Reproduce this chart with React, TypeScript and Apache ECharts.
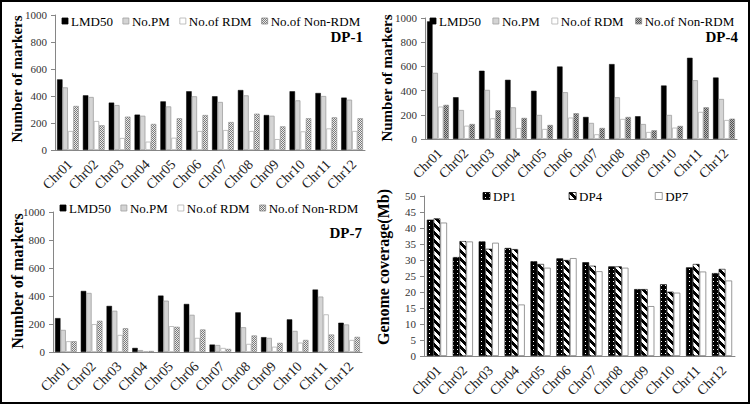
import React, { useEffect, useRef } from 'react';
import * as echarts from 'echarts';

const CHR = ['Chr01', 'Chr02', 'Chr03', 'Chr04', 'Chr05', 'Chr06', 'Chr07', 'Chr08', 'Chr09', 'Chr10', 'Chr11', 'Chr12'];
const MARKER_TICKS = { min: 0, max: 1000, interval: 200 };
const COV_TICKS = { min: 0, max: 50, interval: 5 };

const DP1_LMD50 = [523, 405, 351, 262, 360, 435, 398, 444, 259, 435, 422, 388];
const DP1_PM = [464, 393, 333, 254, 323, 398, 356, 405, 254, 368, 400, 373];
const DP1_RDM = [141, 215, 89, 62, 91, 141, 148, 141, 81, 138, 160, 141];
const DP1_NONRDM = [326, 183, 247, 193, 235, 259, 207, 269, 175, 235, 242, 235];

const DP4_LMD50 = [972, 345, 564, 489, 398, 599, 182, 619, 188, 442, 671, 508];
const DP4_PM = [547, 240, 406, 262, 199, 387, 133, 345, 124, 199, 486, 331];
const DP4_RDM = [268, 110, 171, 91, 83, 177, 39, 166, 58, 94, 224, 157];
const DP4_NONRDM = [282, 124, 238, 174, 116, 213, 91, 182, 72, 108, 262, 168];

const DP7_LMD50 = [242, 436, 329, 29, 403, 343, 53, 283, 106, 233, 446, 209];
const DP7_PM = [158, 422, 295, 14, 367, 266, 50, 177, 101, 151, 396, 197];
const DP7_RDM = [77, 199, 122, 5, 185, 101, 29, 58, 38, 67, 269, 86];
const DP7_NONRDM = [77, 223, 170, 7, 180, 161, 22, 118, 65, 86, 125, 108];

const COV_DP1 = [42.6, 30.9, 35.8, 33.75, 29.6, 30.5, 29.3, 28.0, 20.9, 22.4, 27.7, 25.9];
const COV_DP4 = [43.0, 35.9, 33.5, 33.4, 28.75, 30.0, 28.2, 28.0, 20.9, 20.1, 28.75, 27.2];
const COV_DP7 = [41.7, 35.8, 35.4, 16.1, 27.6, 30.6, 26.5, 27.6, 15.6, 19.8, 26.4, 23.6];

const MARKER_NAMES = ['LMD50', 'No.PM', 'No.of RDM', 'No.of Non-RDM'];
const COV_NAMES = ['DP1', 'DP4', 'DP7'];

const FONT = 'Liberation Serif, serif';
const LEGEND_FONT = `13px ${FONT}`;
const CAT_FONT = `14px ${FONT}`;

function makeTile(size: number, fn: (x: number, y: number) => string) {
  const c = document.createElement('canvas');
  c.width = size;
  c.height = size;
  const ctx = c.getContext('2d')!;
  for (let y = 0; y < size; y++) {
    for (let x = 0; x < size; x++) {
      ctx.fillStyle = fn(x, y);
      ctx.fillRect(x, y, 1, 1);
    }
  }
  return { image: c, repeat: 'repeat' as const };
}

export default function App() {
  const ref = useRef<HTMLDivElement>(null);
  useEffect(() => {
    if (!ref.current) return;
    const chart = echarts.init(ref.current, undefined, { renderer: 'svg' });

    const measure = document.createElement('canvas').getContext('2d')!;
    measure.font = LEGEND_FONT;
    const textW = (t: string) => measure.measureText(t).width;

    const lightChecker = makeTile(2, (x, y) => ((x + y) % 2 === 0 ? '#7a7a7a' : '#ececec'));
    const darkChecker = makeTile(2, (x, y) => ((x + y) % 2 === 0 ? '#505050' : '#b8b8b8'));
    const dotted = makeTile(4, (x, y) => (x === 1 && y === 1 ? '#ffffff' : '#000000'));
    const striped = makeTile(8, (x, y) => ((((x - y) % 8) + 8) % 8 < 4 ? '#000000' : '#ffffff'));

    const markerStyles = (nonRdm: any) => [
      { color: '#000000', borderColor: '#000000', borderWidth: 0.5 },
      { color: '#d4d4d4', borderColor: '#a0a0a0', borderWidth: 0.8 },
      { color: '#ffffff', borderColor: '#b0b0b0', borderWidth: 0.8 },
      { color: nonRdm, borderColor: '#8a8a8a', borderWidth: 0.6 },
    ];
    const covStyles = [
      { color: dotted, borderColor: '#000000', borderWidth: 0.6 },
      { color: striped, borderColor: '#000000', borderWidth: 0.6 },
      { color: '#ffffff', borderColor: '#808080', borderWidth: 0.8 },
    ];

    const grids = [
      { left: 55, top: 15, width: 310, height: 135 },
      { left: 425, top: 18, width: 312, height: 121 },
      { left: 53, top: 212, width: 309, height: 140 },
      { left: 424, top: 196, width: 311, height: 160 },
    ];

    const axisLine = { show: true, lineStyle: { color: '#868686', width: 1 } };
    const xAxes = grids.map((_, i) => ({
      type: 'category',
      gridIndex: i,
      data: CHR,
      axisLine,
      axisTick: { show: false },
      axisLabel: { show: false },
    }));
    const yAxes = grids.map((_, i) => ({
      type: 'value',
      gridIndex: i,
      ...(i === 3 ? COV_TICKS : MARKER_TICKS),
      axisLine,
      axisTick: { show: true, length: 4, lineStyle: { color: '#868686' } },
      splitLine: { show: false },
      axisLabel: {
        fontFamily: FONT,
        fontSize: 11,
        color: '#333',
        margin: 8,
        formatter: (v: number) => String(v),
      },
    }));

    const markerData = [
      [DP1_LMD50, DP1_PM, DP1_RDM, DP1_NONRDM],
      [DP4_LMD50, DP4_PM, DP4_RDM, DP4_NONRDM],
      [DP7_LMD50, DP7_PM, DP7_RDM, DP7_NONRDM],
    ];
    const nonRdmPatterns = [lightChecker, darkChecker, lightChecker];

    const series: any[] = [];
    markerData.forEach((set, g) => {
      const styles = markerStyles(nonRdmPatterns[g]);
      set.forEach((vals, k) => {
        series.push({
          type: 'bar',
          name: MARKER_NAMES[k],
          xAxisIndex: g,
          yAxisIndex: g,
          data: vals,
          barGap: '0%',
          barCategoryGap: '16%',
          itemStyle: styles[k],
        });
      });
    });
    [COV_DP1, COV_DP4, COV_DP7].forEach((vals, k) => {
      series.push({
        type: 'bar',
        name: COV_NAMES[k],
        xAxisIndex: 3,
        yAxisIndex: 3,
        data: vals,
        barGap: '0%',
        barCategoryGap: '22%',
        itemStyle: covStyles[k],
      });
    });

    // Legends drawn as graphic elements (icon + serif text)
    const legendGraphic = (names: string[], styles: any[], startX: number, cy: number, size: number, gap: number) => {
      const els: any[] = [];
      let x = startX;
      names.forEach((n, k) => {
        const st = styles[k];
        els.push({
          type: 'rect',
          silent: true,
          shape: { x, y: cy - size / 2, width: size, height: size },
          style: { fill: st.color, stroke: st.borderColor, lineWidth: 0.8 },
        });
        const tx = x + size + 3;
        els.push({
          type: 'text',
          silent: true,
          x: tx,
          y: cy,
          style: { text: n, font: LEGEND_FONT, fill: '#000', align: 'left', verticalAlign: 'middle' },
        });
        x = tx + textW(n) + gap;
      });
      return els;
    };

    const title = (text: string, x: number, y: number, size: number) => ({
      type: 'text',
      x,
      y,
      rotation: Math.PI / 2,
      style: { text, font: `bold ${size}px ${FONT}`, fill: '#000', align: 'center', verticalAlign: 'middle' },
    });
    const dpLabel = (text: string, x: number, y: number) => ({
      type: 'text',
      x,
      y,
      style: { text, font: `bold 15px ${FONT}`, fill: '#000', align: 'right', verticalAlign: 'middle' },
    });

    const baseGraphic: any[] = [
      ...legendGraphic(MARKER_NAMES, markerStyles(lightChecker), 62, 21, 6, 10),
      ...legendGraphic(MARKER_NAMES, markerStyles(darkChecker), 430, 21, 6, 12),
      ...legendGraphic(MARKER_NAMES, markerStyles(lightChecker), 60, 208, 6, 10),
      ...legendGraphic(COV_NAMES, covStyles, 483, 196, 7, 53),
      title('Number of markers', 17, 79, 15),
      title('Number of markers', 387, 78, 15),
      title('Number of markers', 17, 281, 16),
      title('Genome coverage(Mb)', 383, 267, 16),
      dpLabel('DP-1', 363, 37),
      dpLabel('DP-4', 738, 37),
      dpLabel('DP-7', 362, 233),
      {
        type: 'rect',
        shape: { x: 1, y: 1, width: 748, height: 402 },
        style: { fill: 'none', stroke: '#000', lineWidth: 2 },
        silent: true,
      },
    ];

    chart.setOption({
      animation: false,
      backgroundColor: '#ffffff',
      grid: grids,
      xAxis: xAxes,
      yAxis: yAxes,
      series,
      graphic: baseGraphic,
    });

    // Rotated category labels placed at the category axis positions
    const catLabels: any[] = [];
    grids.forEach((g, i) => {
      const axisY = chart.convertToPixel({ yAxisIndex: i }, 0) as number;
      CHR.forEach((c, j) => {
        const px = chart.convertToPixel({ xAxisIndex: i }, j) as number;
        catLabels.push({
          type: 'text',
          silent: true,
          x: px + 2,
          y: axisY + 12,
          rotation: Math.PI / 4,
          style: { text: c, font: CAT_FONT, fill: '#222', align: 'right', verticalAlign: 'middle' },
        });
      });
    });
    chart.setOption({ graphic: [...baseGraphic, ...catLabels] });

    return () => chart.dispose();
  }, []);
  return <div ref={ref} style={{ position: 'fixed', left: 0, top: 0, width: 750, height: 404 }} />;
}
